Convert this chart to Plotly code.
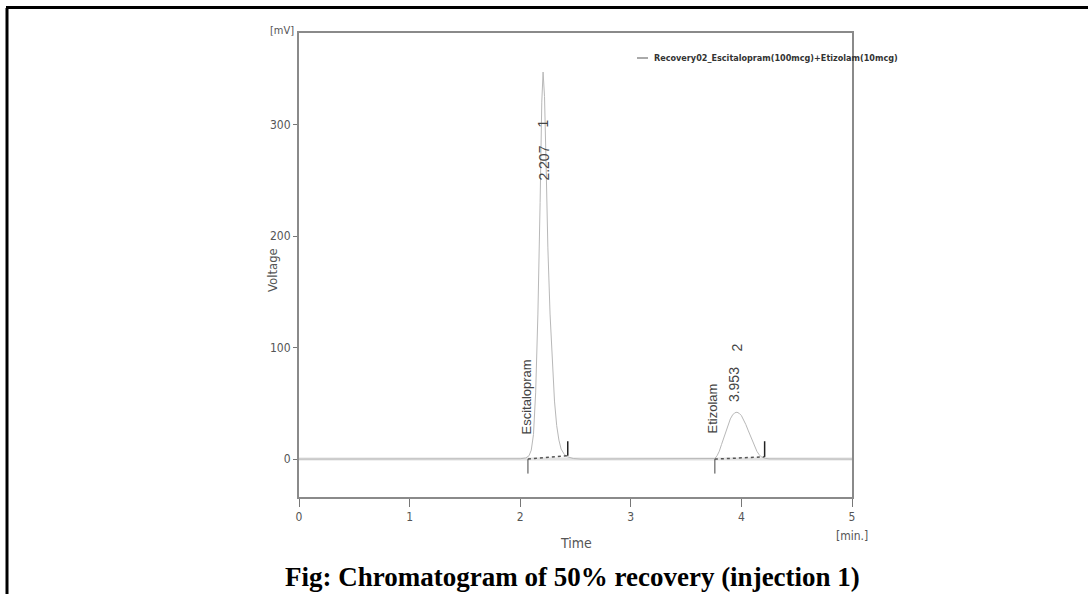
import plotly.graph_objects as go

# ---- data ----
time_min = [0.0, 1.95, 2.00, 2.05, 2.08, 2.10, 2.12, 2.14, 2.16, 2.18, 2.195, 2.207,
            2.22, 2.235, 2.25, 2.27, 2.29, 2.31, 2.33, 2.35, 2.37, 2.40, 2.43, 2.48,
            2.55, 3.70, 3.76, 3.78, 3.80, 3.82, 3.84, 3.86, 3.88, 3.90, 3.92, 3.94,
            3.96, 3.98, 4.00, 4.02, 4.04, 4.06, 4.08, 4.10, 4.12, 4.14, 4.16, 4.18,
            4.21, 4.25, 5.0]
voltage_mv = [0.0, 0.0, 0.3, 1.0, 3.0, 8.0, 22.0, 60.0, 130.0, 230.0, 320.0, 347.0,
              325.0, 260.0, 190.0, 130.0, 85.0, 52.0, 30.0, 17.0, 9.0, 4.0, 2.0, 0.5,
              0.0, 0.0, 0.5, 3.0, 7.0, 13.0, 19.0, 25.0, 31.0, 36.0, 39.5, 41.5,
              42.0, 41.0, 39.0, 35.5, 31.0, 26.0, 21.0, 16.0, 11.0, 7.0, 4.0, 2.0,
              0.8, 0.2, 0.0]

peak_names = ["Escitalopram", "Etizolam"]
peak_numbers = ["1", "2"]
retention_times = ["2.207", "3.953"]
int_start = [2.07, 3.76]
int_end = [2.43, 4.21]
int_end_level = [3.0, 2.0]

x_ticks = [0, 1, 2, 3, 4, 5]
y_ticks = [0, 100, 200, 300]
x_range = [0, 5]
y_range = [-34, 382]

legend_label = "Recovery02_Escitalopram(100mcg)+Etizolam(10mcg)"
caption = "Fig: Chromatogram of 50% recovery (injection 1)"

# ---- layout geometry ----
W, H = 1088, 594
L, R, T, B = 299, 236, 33, 97
PW, PH = W - L - R, H - T - B


def px(x):
    return (x - L) / PW


def py(y):
    return (H - B - y) / PH


NARROW = ("Liberation Sans Narrow, Arial Narrow, DejaVu Sans Condensed, "
          "Liberation Sans, Arial, sans-serif")
SANS = "Liberation Sans, Arial, sans-serif"

fig = go.Figure()

# zero baseline (light gray, thick)
fig.add_trace(go.Scatter(x=x_range, y=[0, 0], mode="lines",
                         line=dict(color="#e2e2e2", width=3),
                         hoverinfo="skip", showlegend=False))
# chromatogram trace
fig.add_trace(go.Scatter(x=time_min, y=voltage_mv, mode="lines",
                         line=dict(color="#b8b8b8", width=1),
                         name=legend_label, showlegend=False))

# integration baselines
for s, e, lv in zip(int_start, int_end, int_end_level):
    fig.add_trace(go.Scatter(x=[s, e], y=[0, lv], mode="lines",
                             line=dict(color="#555555", width=1.5, dash="dot"),
                             hoverinfo="skip", showlegend=False))
    fig.add_trace(go.Scatter(x=[s, s], y=[0, -13], mode="lines",
                             line=dict(color="#444444", width=1),
                             hoverinfo="skip", showlegend=False))
    fig.add_trace(go.Scatter(x=[e, e], y=[lv, 16], mode="lines",
                             line=dict(color="#222222", width=1.5),
                             hoverinfo="skip", showlegend=False))

annotations = []
# peak labels (rotated)
name_pos = [(2.06, 56), (3.74, 45)]
rt_pos = [(2.207, 265), (3.94, 67)]
num_pos = [(2.207, 301), (3.96, 100)]
for i in range(2):
    annotations.append(dict(x=name_pos[i][0], y=name_pos[i][1], xref="x", yref="y",
                            text=peak_names[i], textangle=-90, showarrow=False,
                            xanchor="center", yanchor="middle",
                            font=dict(family=SANS, size=13, color="#444")))
    annotations.append(dict(x=rt_pos[i][0], y=rt_pos[i][1], xref="x", yref="y",
                            text=retention_times[i], textangle=-90, showarrow=False,
                            xanchor="center", yanchor="middle",
                            font=dict(family=SANS, size=14, color="#444")))
    annotations.append(dict(x=num_pos[i][0], y=num_pos[i][1], xref="x", yref="y",
                            text=peak_numbers[i], textangle=-90, showarrow=False,
                            xanchor="center", yanchor="middle",
                            font=dict(family=SANS, size=14, color="#444")))


def label(xp, yp, text, size, color="#555", family=NARROW, angle=0,
          xanchor="center", yanchor="middle"):
    return dict(x=px(xp), y=py(yp), xref="paper", yref="paper", text=text,
                showarrow=False, textangle=angle, xanchor=xanchor, yanchor=yanchor,
                font=dict(family=family, size=size, color=color))


annotations += [
    label(296, 30, "[mV]", 11, xanchor="right"),
    label(272, 270, "Voltage", 13, angle=-90),
    label(576, 543, "Time", 14),
    label(852, 536, "[min.]", 12),
    label(652, 58, "<b>" + legend_label + "</b>", 9, color="#333", xanchor="left"),
    label(572, 594, "<b>" + caption + "</b>", 27, color="#000",
          family="Liberation Serif, Times New Roman, serif", yanchor="bottom"),
]

shapes = [
    # legend sample line
    dict(type="line", xref="paper", yref="paper", x0=px(637), x1=px(648), y0=py(58), y1=py(58),
         line=dict(color="#aaaaaa", width=2)),
    # outer page frame (left + top)
    dict(type="line", xref="paper", yref="paper", x0=px(7), x1=px(7), y0=py(8), y1=py(600),
         line=dict(color="#000", width=3)),
    dict(type="line", xref="paper", yref="paper", x0=px(6), x1=px(1095), y0=py(7.5), y1=py(7.5),
         line=dict(color="#000", width=3)),
]

fig.update_layout(
    width=W, height=H,
    margin=dict(l=L, r=R, t=T, b=B, pad=0),
    paper_bgcolor="white", plot_bgcolor="white",
    showlegend=False,
    annotations=annotations,
    shapes=shapes,
    xaxis=dict(range=x_range, tickvals=x_ticks, showgrid=False, zeroline=False,
               showline=True, mirror=True, linecolor="#8a8a8a", linewidth=2,
               ticks="outside", ticklen=8, tickcolor="#777", tickwidth=1,
               tickfont=dict(family=NARROW, size=12, color="#555")),
    yaxis=dict(range=y_range, tickvals=y_ticks, showgrid=False, zeroline=False,
               showline=True, mirror=True, linecolor="#8a8a8a", linewidth=2,
               ticks="outside", ticklen=4, tickcolor="#777", tickwidth=1,
               tickfont=dict(family=NARROW, size=12, color="#555")),
)

fig.write_html("out.html")
